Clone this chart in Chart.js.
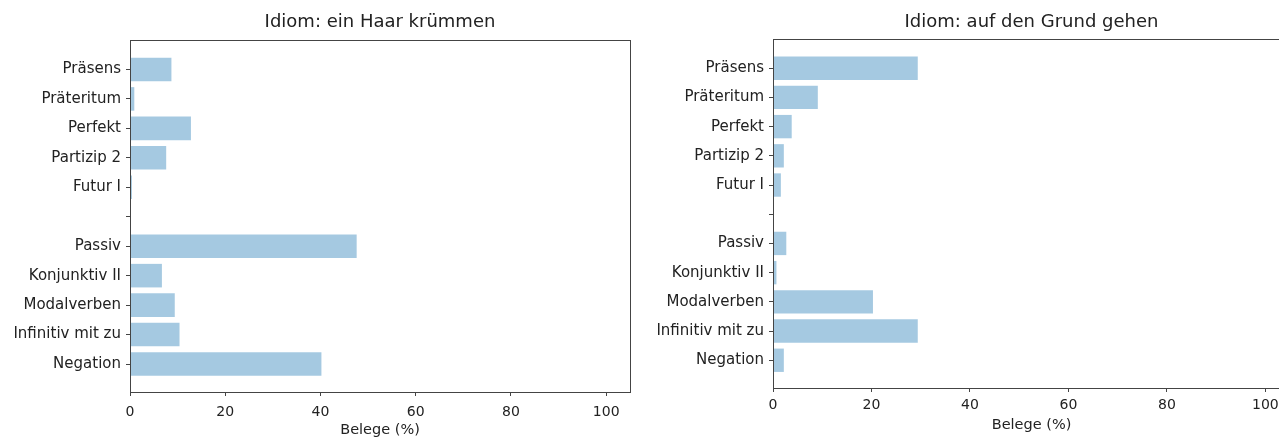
<!DOCTYPE html>
<html>
<head>
<meta charset="utf-8">
<title>Idiome: Belege (%)</title>
<script src="https://cdn.jsdelivr.net/npm/chart.js@4.4.1/dist/chart.umd.min.js"></script>
<style>
  html, body { margin: 0; padding: 0; background: #fff; overflow: hidden; }
  #wrap { position: relative; width: 1279px; height: 439px; overflow: hidden; }
  #c1 { position: absolute; left: 0; top: 0; }
  #c2 { position: absolute; left: 640px; top: 0; }
</style>
</head>
<body>
<div id="wrap">
  <canvas id="c1" width="640" height="439"></canvas>
  <canvas id="c2" width="650" height="439"></canvas>
</div>
<script>
// categories (the empty one is the gap between tense and construction groups)
const categories = [
  "Präsens",
  "Präteritum",
  "Perfekt",
  "Partizip 2",
  "Futur I",
  "",
  "Passiv",
  "Konjunktiv II",
  "Modalverben",
  "Infinitiv mit zu",
  "Negation",
];

const haarKruemmen = [8.7, 0.9, 12.8, 7.6, 0.4, null, 47.6, 6.7, 9.4, 10.4, 40.2];
const grundGehen = [29.4, 9.1, 3.8, 2.2, 1.6, null, 2.7, 0.7, 20.3, 29.4, 2.2];

const xTicks = [0, 20, 40, 60, 80, 100];

const barColor = "rgba(31, 119, 180, 0.4)";
const axisColor = "#444";

Chart.defaults.font.family = "DejaVu Sans";
Chart.defaults.color = "#222";

// matplotlib draws all four spines, and centres the title over the axes
const boxPlugin = {
  id: "box",
  afterDraw(chart, args, opts) {
    const { ctx, chartArea: a } = chart;
    ctx.save();
    ctx.strokeStyle = axisColor;
    ctx.lineWidth = 1;
    ctx.strokeRect(Math.round(a.left) + 0.5, Math.round(a.top) + 0.5,
      Math.round(a.right - a.left), Math.round(a.bottom - a.top));
    ctx.fillStyle = "#222";
    ctx.font = "18px 'DejaVu Sans'";
    ctx.textAlign = "center";
    ctx.textBaseline = "middle";
    ctx.fillText(opts.text, (a.left + a.right) / 2, 22);
    ctx.restore();
  },
};

function makeChart(canvasId, title, values, geo) {
  const ctx = document.getElementById(canvasId);
  return new Chart(ctx, {
    type: "bar",
    data: {
      datasets: [
        {
          data: categories.map((c, i) => ({ x: values[i], y: i })),
          backgroundColor: barColor,
          borderWidth: 0,
          categoryPercentage: 1,
          barPercentage: 0.8,
        },
      ],
    },
    plugins: [boxPlugin],
    options: {
      indexAxis: "y",
      responsive: false,
      animation: false,
      layout: { padding: { left: 0, right: geo.right, top: geo.top, bottom: 0 } },
      plugins: {
        legend: { display: false },
        tooltip: { enabled: false },
        title: { display: false },
        box: { text: title },
      },
      scales: {
        x: {
          type: "linear",
          min: 0,
          max: 105,
          afterBuildTicks: (s) => {
            s.ticks = xTicks.map((v) => ({ value: v }));
          },
          afterFit: (s) => {
            s.height = geo.xHeight;
          },
          grid: {
            drawOnChartArea: false,
            drawTicks: true,
            tickLength: 4,
            color: axisColor,
          },
          border: { display: true, color: axisColor, width: 1 },
          ticks: { font: { size: 14 }, padding: geo.xPad, color: "#222" },
          title: {
            display: true,
            text: "Belege (%)",
            font: { size: 14.5 },
            color: "#222",
            padding: { top: 0, bottom: geo.xTitleBottom },
          },
        },
        y: {
          type: "linear",
          reverse: true,
          offset: false,
          min: -1.0,
          max: 10.95,
          afterBuildTicks: (s) => {
            s.ticks = categories.map((c, i) => ({ value: i }));
          },
          afterFit: (s) => {
            s.width = geo.yWidth;
          },
          grid: {
            offset: false,
            drawOnChartArea: false,
            drawTicks: true,
            tickLength: 4,
            color: axisColor,
          },
          border: { display: true, color: axisColor, width: 1 },
          ticks: {
            font: { size: 15 },
            padding: 5,
            color: "#222",
            callback: (v) => categories[v] ?? "",
          },
        },
      },
    },
  });
}

makeChart("c1", "Idiom: ein Haar krümmen", haarKruemmen, {
  right: 10,
  top: 40,
  xHeight: 47,
  xPad: 8,
  xTitleBottom: 0,
  yWidth: 130,
});

makeChart("c2", "Idiom: auf den Grund gehen", grundGehen, {
  right: 0,
  top: 39,
  xHeight: 51,
  xPad: 4.5,
  xTitleBottom: 5,
  yWidth: 133,
});
</script>
</body>
</html>
